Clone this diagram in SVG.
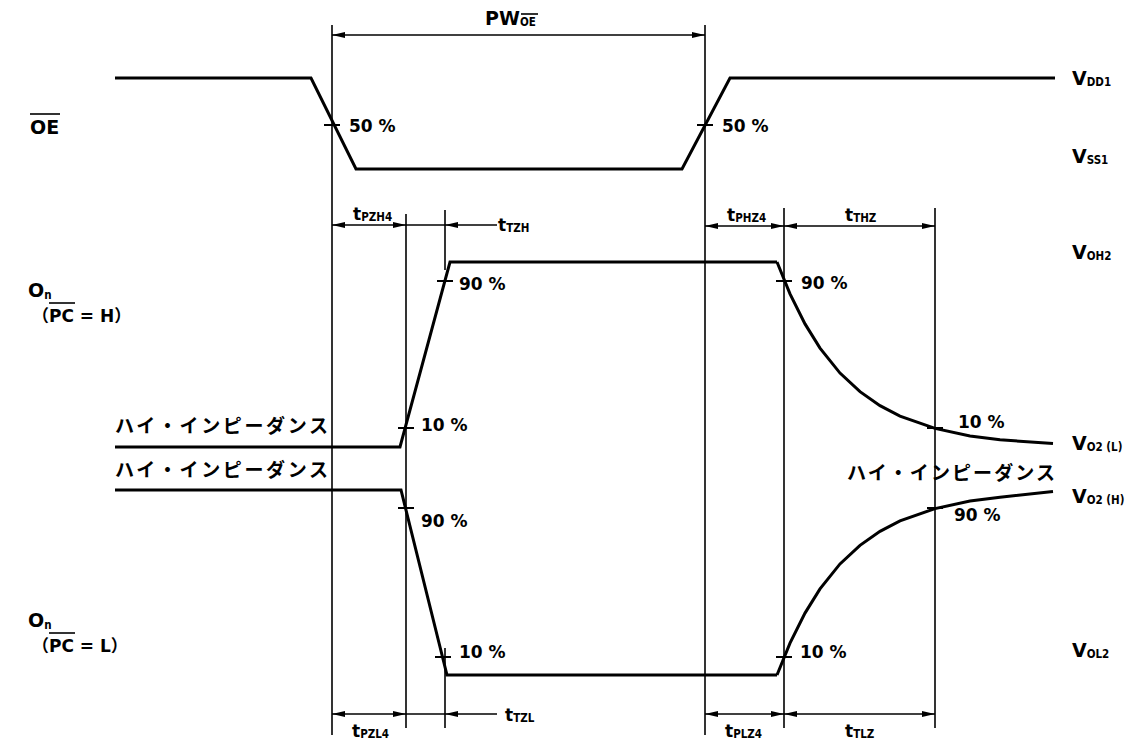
<svg xmlns="http://www.w3.org/2000/svg" width="1143" height="745" viewBox="0 0 1143 745">
<defs>
<marker id="ah" viewBox="0 0 13 6" refX="13" refY="3" markerWidth="13" markerHeight="6" markerUnits="userSpaceOnUse" orient="auto-start-reverse"><path d="M0,0 L13,3 L0,6 z" fill="#000"/></marker>
</defs>
<style>
.w{fill:none;stroke:#000;stroke-width:3;stroke-linejoin:miter}
.g{stroke:#000;stroke-width:1.6;fill:none}
.tk{stroke:#000;stroke-width:2}
.d{stroke:#000;stroke-width:1.6;marker-start:url(#ah);marker-end:url(#ah)}
.d1{stroke:#000;stroke-width:1.6;marker-start:url(#ah)}
.t{font-family:"DejaVu Sans","Noto Sans CJK JP",sans-serif;font-weight:bold;font-size:17px;fill:#000}
.b{font-size:19px}
.s{font-family:"DejaVu Sans Condensed","DejaVu Sans",sans-serif;font-size:11.5px;font-weight:bold}
.k{font-family:"Noto Sans CJK JP",sans-serif;font-weight:bold;font-size:19px;fill:#000}
.ov{stroke:#000;stroke-width:1.6}
</style>
<rect width="1143" height="745" fill="#fff"/>

<g id="guides">
<line class="g" x1="332" y1="25" x2="332" y2="735"/>
<line class="g" x1="705" y1="25" x2="705" y2="735"/>
<line class="g" x1="406" y1="214" x2="406" y2="728"/>
<line class="g" x1="445" y1="210" x2="445" y2="270"/>
<line class="g" x1="445" y1="648" x2="445" y2="728"/>
<line class="g" x1="784" y1="208" x2="784" y2="728"/>
<line class="g" x1="935" y1="208" x2="935" y2="728"/>
</g>

<g id="connectors">
<line class="d" x1="332" y1="35" x2="705" y2="35"/>
<line class="d" x1="332" y1="225" x2="406" y2="225"/>
<line class="g" x1="406" y1="225" x2="445" y2="225"/>
<line class="d1" x1="445" y1="225" x2="497" y2="225"/>
<line class="d" x1="705" y1="226" x2="784" y2="226"/>
<line class="d" x1="784" y1="226" x2="935" y2="226"/>
<line class="d" x1="332" y1="714" x2="406" y2="714"/>
<line class="g" x1="406" y1="714" x2="445" y2="714"/>
<line class="d1" x1="445" y1="714" x2="497" y2="714"/>
<line class="d" x1="705" y1="714" x2="784" y2="714"/>
<line class="d" x1="784" y1="714" x2="935" y2="714"/>
</g>

<g id="wave-oe">
<polyline class="w" points="115,78 311,78 356,169 682,169 730,78 1055,78"/>
</g>
<g id="wave-on-h">
<polyline class="w" points="115,447 400,447 450,262 777,262"/>
<path class="w" d="M777,262 L790,293.9 L805,323.9 L820,348.1 L840,373.1 L860,391.7 L880,405.7 L900,416.1 L935,428.4 L970,435.9 L1000,439.8 L1053,443.5"/>
</g>
<g id="wave-on-l">
<polyline class="w" points="115,490 401,490 447,675 777,675"/>
<path class="w" d="M777,675 L790,643.1 L805,613.1 L820,588.9 L840,563.9 L860,545.3 L880,531.3 L900,520.9 L935,508.6 L970,501.1 L1000,497.2 L1053,491.5"/>
</g>

<g id="ticks">
<line class="tk" x1="324" y1="125" x2="340" y2="125"/>
<line class="tk" x1="697" y1="125" x2="713" y2="125"/>
<line class="tk" x1="398" y1="428" x2="414" y2="428"/>
<line class="tk" x1="437" y1="281" x2="453" y2="281"/>
<line class="tk" x1="776" y1="281" x2="792" y2="281"/>
<line class="tk" x1="927" y1="428" x2="943" y2="428"/>
<line class="tk" x1="398" y1="508" x2="414" y2="508"/>
<line class="tk" x1="435" y1="657" x2="451" y2="657"/>
<line class="tk" x1="776" y1="657" x2="792" y2="657"/>
<line class="tk" x1="927" y1="508" x2="943" y2="508"/>
</g>

<g id="labels-pct">
<text class="t" x="349" y="132">50 %</text>
<text class="t" x="722" y="132">50 %</text>
<text class="t" x="459" y="290">90 %</text>
<text class="t" x="421" y="431">10 %</text>
<text class="t" x="801" y="289">90 %</text>
<text class="t" x="958" y="428">10 %</text>
<text class="t" x="421" y="527">90 %</text>
<text class="t" x="459" y="658">10 %</text>
<text class="t" x="800" y="658">10 %</text>
<text class="t" x="954" y="521">90 %</text>
</g>

<g id="labels-time">
<text class="t b" x="485" y="25">PW<tspan class="s" dy="1">OE</tspan></text>
<line class="ov" x1="521" y1="14" x2="538" y2="14"/>
<text class="t" x="353" y="220">t<tspan class="s" dy="1">PZH4</tspan></text>
<text class="t" x="498" y="231">t<tspan class="s" dy="1">TZH</tspan></text>
<text class="t" x="727" y="221">t<tspan class="s" dy="1">PHZ4</tspan></text>
<text class="t" x="845" y="221">t<tspan class="s" dy="1">THZ</tspan></text>
<text class="t" x="352" y="737">t<tspan class="s" dy="1">PZL4</tspan></text>
<text class="t" x="505" y="721">t<tspan class="s" dy="1">TZL</tspan></text>
<text class="t" x="725" y="737">t<tspan class="s" dy="1">PLZ4</tspan></text>
<text class="t" x="845" y="737">t<tspan class="s" dy="1">TLZ</tspan></text>
</g>

<g id="labels-left">
<text class="t b" x="30" y="134">OE</text>
<line class="ov" x1="30" y1="114" x2="60" y2="114"/>
<text class="t b" x="28" y="297">O<tspan class="s" dy="2">n</tspan></text>
<text class="t" x="32" y="322">（PC = H）</text>
<line class="ov" x1="49" y1="303" x2="75" y2="303"/>
<text class="t b" x="28" y="627">O<tspan class="s" dy="2">n</tspan></text>
<text class="t" x="32" y="652">（PC = L）</text>
<line class="ov" x1="49" y1="633" x2="75" y2="633"/>
<text class="k" x="115" y="433" textLength="213" lengthAdjust="spacing">ハイ・インピーダンス</text>
<text class="k" x="115" y="477" textLength="213" lengthAdjust="spacing">ハイ・インピーダンス</text>
<text class="k" x="847" y="480" textLength="208" lengthAdjust="spacing">ハイ・インピーダンス</text>
</g>

<g id="labels-right">
<text class="t b" x="1072" y="85">V<tspan class="s" dy="1">DD1</tspan></text>
<text class="t b" x="1072" y="163">V<tspan class="s" dy="1">SS1</tspan></text>
<text class="t b" x="1072" y="259">V<tspan class="s" dy="1">OH2</tspan></text>
<text class="t b" x="1072" y="450">V<tspan class="s" dy="1">O2 (L)</tspan></text>
<text class="t b" x="1072" y="503">V<tspan class="s" dy="1">O2 (H)</tspan></text>
<text class="t b" x="1072" y="657">V<tspan class="s" dy="1">OL2</tspan></text>
</g>
</svg>
